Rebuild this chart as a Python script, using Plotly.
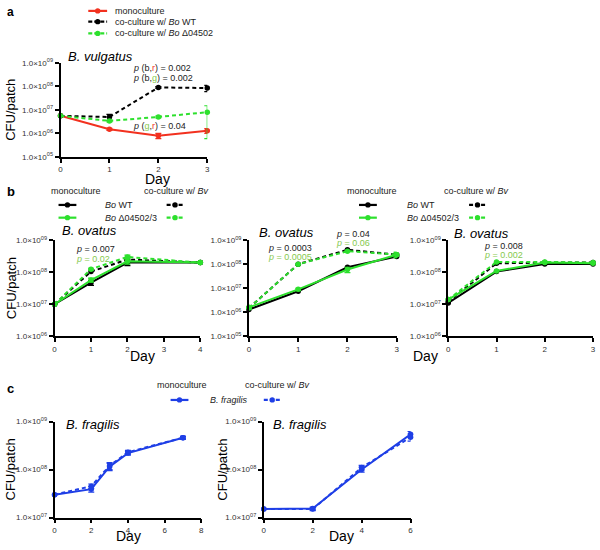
import plotly.graph_objects as go

W, H = 600, 550
RED = "#f2311f"
GREEN = "#2de02d"
GREEN_TXT = "#86c94e"
BLUE = "#1f3fe6"
BLACK = "#000000"
FONT = "Liberation Sans, Arial, sans-serif"
DASH = "4px,3px"

# ---------------- data ----------------
# panel a: B. vulgatus
a_days = [0, 1, 2, 3]
a_mono = [5.6e6, 1.5e6, 8.0e5, 1.3e6]
a_mono_err = [0, 1.5e5, 2.0e5, 3.0e5]
a_co_wt = [5.6e6, 5.0e6, 9.0e7, 8.5e7]
a_co_wt_err = [0, 1.5e6, 8e6, 2.5e7]
a_co_del = [5.6e6, 3.4e6, 5.0e6, 8.0e6]
a_co_del_errp = [0, 3e5, 4e5, 7.0e6]
a_co_del_errm = [0, 3e5, 4e5, 7.4e6]

# panel b1: B. ovatus (0-4 days)
b1_days = [0, 1, 2, 4]
b1_mono_wt = [1.0e7, 4.7e7, 2.0e8, 2.0e8]
b1_mono_del = [1.0e7, 5.7e7, 2.2e8, 2.0e8]
b1_co_wt = [1.0e7, 1.05e8, 2.5e8, 2.0e8]
b1_co_del = [1.0e7, 1.25e8, 3.0e8, 2.0e8]
b1_err = [0, 8e6, 4e7, 1e7]

# panel b2: B. ovatus (0-3 days)
b2_days = [0, 1, 2, 3]
b2_mono_wt = [1.3e6, 7.5e6, 7.5e7, 2.1e8]
b2_mono_del = [1.6e6, 9.0e6, 6.0e7, 2.5e8]
b2_co_wt = [1.5e6, 1.0e8, 4.0e8, 2.5e8]
b2_co_del = [1.5e6, 1.0e8, 3.5e8, 2.5e8]
b2_err = [2e5, 1e6, 1.5e7, 6e7]

# panel b3: B. ovatus (0-3 days)
b3_days = [0, 1, 2, 3]
b3_mono_wt = [1.1e7, 1.05e8, 1.8e8, 1.8e8]
b3_mono_del = [1.4e7, 1.1e8, 2.0e8, 1.9e8]
b3_co_wt = [1.2e7, 1.9e8, 2.0e8, 2.0e8]
b3_co_del = [1.4e7, 2.1e8, 2.1e8, 2.0e8]

# panel c1: B. fragilis (0-7 days)
c1_days = [0, 2, 3, 4, 7]
c1_mono = [3.0e7, 3.9e7, 1.15e8, 2.2e8, 4.6e8]
c1_co = [3.0e7, 4.5e7, 1.2e8, 2.3e8, 4.6e8]
c1_err = [0, 5e6, 2e7, 2e7, 3e7]

# panel c2: B. fragilis (0-6 days)
c2_days = [0, 2, 4, 6]
c2_mono = [1.5e7, 1.55e7, 1.0e8, 5.4e8]
c2_co = [1.5e7, 1.5e7, 1.1e8, 4.7e8]
c2_err = [0, 1e6, 1.2e7, 8e7]

# tick labels
y_exps = ["05", "06", "07", "08", "09"]
y_vals = [1e5, 1e6, 1e7, 1e8, 1e9]
y_text = ["1.0×10<sup>%s</sup>" % e for e in y_exps]


def px(x):
    return x / W


def py(y):
    return 1 - y / H


fig = go.Figure()

panels = {
    "a": dict(xd=(59, 207), yd=(58, 154), xr=[0, 3], dt=1, yr=[5, 9]),
    "b1": dict(xd=(53, 200), yd=(239, 337), xr=[0, 4], dt=1, yr=[6, 9]),
    "b2": dict(xd=(249, 398), yd=(239, 337), xr=[0, 3], dt=1, yr=[5, 9]),
    "b3": dict(xd=(450, 596), yd=(239, 337), xr=[0, 3], dt=1, yr=[6, 9]),
    "c1": dict(xd=(53, 201), yd=(424, 522), xr=[0, 8], dt=2, yr=[7, 9]),
    "c2": dict(xd=(264, 412), yd=(424, 522), xr=[0, 6], dt=2, yr=[7, 9]),
}
axis_ids = {}
layout_axes = {}
for i, (k, p) in enumerate(panels.items()):
    n = "" if i == 0 else str(i + 1)
    axis_ids[k] = ("x" + n, "y" + n)
    common = dict(showline=True, linecolor="black", linewidth=1.8, ticks="outside",
                  ticklen=4, tickwidth=1.5, tickcolor="black", showgrid=False,
                  zeroline=False, tickfont=dict(size=8, color="#333", family=FONT))
    layout_axes["xaxis" + n] = dict(common, domain=[px(p["xd"][0]), px(p["xd"][1])],
                                    anchor="y" + n, range=p["xr"], dtick=p["dt"],
                                    tick0=0, fixedrange=True)
    lo, hi = p["yr"]
    tv = [v for v in y_vals if 10 ** lo <= v <= 10 ** hi]
    tt = [t for v, t in zip(y_vals, y_text) if 10 ** lo <= v <= 10 ** hi]
    layout_axes["yaxis" + n] = dict(common, domain=[py(p["yd"][1]), py(p["yd"][0])],
                                    anchor="x" + n, type="log", range=[lo, hi],
                                    tickvals=tv, ticktext=tt, fixedrange=True)


def add(panel, xs, ys, color, dash, err=None, errm=None, width=2):
    xa, ya = axis_ids[panel]
    ey = None
    if err is not None:
        ey = dict(type="data", array=err, arrayminus=errm if errm is not None else err,
                  color=color, thickness=1.2, width=3, visible=True)
    fig.add_trace(go.Scatter(x=xs, y=ys, xaxis=xa, yaxis=ya, mode="lines+markers",
                             line=dict(color=color, width=width, dash=dash),
                             marker=dict(color=color, size=5.5), error_y=ey,
                             cliponaxis=False, showlegend=False, hoverinfo="skip"))


# panel a
add("a", a_days, a_mono, RED, "solid", a_mono_err)
add("a", a_days, a_co_wt, BLACK, DASH, a_co_wt_err)
add("a", a_days, a_co_del, GREEN, DASH, a_co_del_errp, a_co_del_errm)
# panel b1
add("b1", b1_days, b1_mono_wt, BLACK, "solid", b1_err)
add("b1", b1_days, b1_co_wt, BLACK, DASH)
add("b1", b1_days, b1_mono_del, GREEN, "solid", b1_err)
add("b1", b1_days, b1_co_del, GREEN, DASH, b1_err)
# panel b2
add("b2", b2_days, b2_mono_wt, BLACK, "solid")
add("b2", b2_days, b2_co_wt, BLACK, DASH)
add("b2", b2_days, b2_mono_del, GREEN, "solid", b2_err)
add("b2", b2_days, b2_co_del, GREEN, DASH, b2_err)
# panel b3
add("b3", b3_days, b3_mono_wt, BLACK, "solid")
add("b3", b3_days, b3_co_wt, BLACK, DASH)
add("b3", b3_days, b3_mono_del, GREEN, "solid")
add("b3", b3_days, b3_co_del, GREEN, DASH)
# panel c
add("c1", c1_days, c1_mono, BLUE, "solid", c1_err)
add("c1", c1_days, c1_co, BLUE, DASH, c1_err)
add("c2", c2_days, c2_mono, BLUE, "solid", c2_err)
add("c2", c2_days, c2_co, BLUE, DASH, c2_err)

annotations = []
shapes = []


def text(x, y, s, size=9, color="#222", xanchor="left", angle=0):
    annotations.append(dict(x=px(x), y=py(y), xref="paper", yref="paper", text=s,
                            showarrow=False, xanchor=xanchor, yanchor="middle",
                            textangle=angle,
                            font=dict(size=size, color=color, family=FONT)))


def swatch(x0, x1, y, color, dash):
    shapes.append(dict(type="line", xref="paper", yref="paper", x0=px(x0), x1=px(x1),
                       y0=py(y), y1=py(y), line=dict(color=color, width=2.2, dash=dash)))
    xm = (x0 + x1) / 2
    shapes.append(dict(type="circle", xref="paper", yref="paper", x0=px(xm - 2.7),
                       x1=px(xm + 2.7), y0=py(y + 2.7), y1=py(y - 2.7),
                       fillcolor=color, line=dict(color=color, width=0)))


SWD = "4px,2px"

# panel labels
text(3, 6, "<b>a</b>", size=12, color="black")
text(3, 189, "<b>b</b>", size=13, color="black")
text(3, 390, "<b>c</b>", size=13, color="black")

# legend a
swatch(87, 106, 5, RED, "solid")
swatch(87, 106, 16, BLACK, SWD)
swatch(87, 106, 28, GREEN, SWD)
text(112, 5, "monoculture")
text(112, 16, "co-culture w/ <i>Bo</i> WT")
text(112, 28, "co-culture w/ <i>Bo</i> Δ04502")

# legends b
for (mx, cx, lx0, dx0, tx) in [(75, 176, 57, 166, 102), (373, 478, 360, 471, 406)]:
    text(mx, 189, "monoculture", xanchor="center")
    text(cx, 189, "co-culture w/ <i>Bv</i>", xanchor="center")
    swatch(lx0, lx0 + 18, 203, BLACK, "solid")
    swatch(lx0, lx0 + 18, 216, GREEN, "solid")
    swatch(dx0, dx0 + 17, 203, BLACK, SWD)
    swatch(dx0, dx0 + 17, 216, GREEN, SWD)
    text(tx, 203, "<i>Bo</i> WT")
    text(tx, 216, "<i>Bo</i> Δ04502/3")

# legend c
text(182, 387, "monoculture", xanchor="center")
text(278, 387, "co-culture w/ <i>Bv</i>", xanchor="center")
swatch(170, 188, 402, BLUE, "solid")
swatch(264, 281, 402, BLUE, SWD)
text(208, 402, "<i>B. fragilis</i>")

# panel titles
text(65, 52, "<i>B. vulgatus</i>", size=13, color="black")
text(58, 229, "<i>B. ovatus</i>", size=13, color="black")
text(257, 231, "<i>B. ovatus</i>", size=13, color="black")
text(454, 232, "<i>B. ovatus</i>", size=13, color="black")
text(63, 427, "<i>B. fragilis</i>", size=13, color="black")
text(271, 427, "<i>B. fragilis</i>", size=13, color="black")

# p-values
R = "<span style='color:%s'>r</span>" % RED
G = "<span style='color:%s'>g</span>" % GREEN_TXT
text(130, 63, "<i>p</i> (b,%s) = 0.002" % R)
text(130, 73, "<i>p</i> (b,%s) = 0.002" % G)
text(130, 122, "<i>p</i> (%s,%s) = 0.04" % (G, R))
text(73, 248, "<i>p</i> = 0.007")
text(73, 258, "<i>p</i> = 0.02", color=GREEN_TXT)
text(266, 247, "<i>p</i> = 0.0003")
text(266, 256, "<i>p</i> = 0.0005", color=GREEN_TXT)
text(335, 233, "<i>p</i> = 0.04")
text(335, 242, "<i>p</i> = 0.06", color=GREEN_TXT)
text(484, 245, "<i>p</i> = 0.008")
text(484, 254, "<i>p</i> = 0.002", color=GREEN_TXT)

# axis titles
text(157, 177, "Day", size=14, color="black", xanchor="center")
text(142, 357, "Day", size=14, color="black", xanchor="center")
text(427, 357, "Day", size=14, color="black", xanchor="center")
text(128, 541, "Day", size=14, color="black", xanchor="center")
text(342, 541, "Day", size=14, color="black", xanchor="center")
for (x, y) in [(9, 106), (9, 288), (9, 473), (222, 473)]:
    text(x, y, "CFU/patch", size=13, color="black", xanchor="center", angle=-90)

fig.update_layout(width=W, height=H, margin=dict(l=0, r=0, t=0, b=0),
                  plot_bgcolor="white", paper_bgcolor="white",
                  font=dict(family=FONT), showlegend=False, hovermode=False,
                  annotations=annotations, shapes=shapes, **layout_axes)

fig.write_html("out.html", config={"displayModeBar": False},
               post_script="document.body.style.margin='0';")
